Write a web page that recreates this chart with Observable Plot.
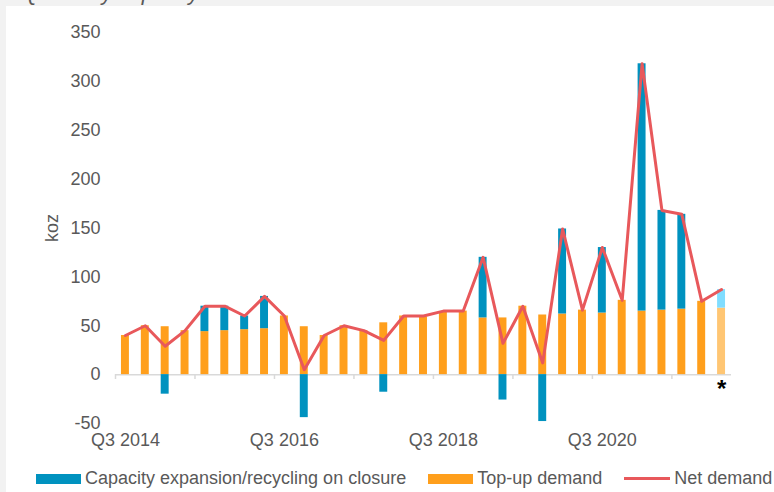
<!DOCTYPE html>
<html>
<head>
<meta charset="utf-8">
<script src="https://cdn.jsdelivr.net/npm/d3@7"></script>
<script src="https://cdn.jsdelivr.net/npm/@observablehq/plot@0.6"></script>
<style>
  html, body { margin: 0; padding: 0; }
  body { width: 774px; height: 492px; background: #f2f2f2; position: relative; overflow: hidden;
         font-family: "Liberation Sans", Arial, sans-serif; }
  #title { position: absolute; left: 22px; top: -20px; font-size: 22px; font-style: italic; color: #595959; white-space: nowrap; z-index: 0; }
  #panel { position: absolute; left: 6px; top: 6px; right: 0; bottom: 0; background: #fff; z-index: 1; }
  #chart { position: absolute; left: 0; top: 0; }
  #legend { position: absolute; left: 30px; top: 462px; display: flex; align-items: center; font-size: 18px; color: #595959; white-space: nowrap; }
  .item { display: flex; align-items: center; margin-right: 22px; }
  .sw { width: 45px; height: 10px; margin-right: 4px; }
  .ln { width: 46px; height: 3px; margin-right: 4px; }
</style>
</head>
<body>
<div id="title">Quarterly capacity additions and closures</div>
<div id="panel">
  <div id="chart"></div>
  <div id="legend"></div>
</div>
<script>
const quarters = ["Q3 2014","Q4 2014","Q1 2015","Q2 2015","Q3 2015","Q4 2015","Q1 2016","Q2 2016",
  "Q3 2016","Q4 2016","Q1 2017","Q2 2017","Q3 2017","Q4 2017","Q1 2018","Q2 2018",
  "Q3 2018","Q4 2018","Q1 2019","Q2 2019","Q3 2019","Q4 2019","Q1 2020","Q2 2020",
  "Q3 2020","Q4 2020","Q1 2021","Q2 2021","Q3 2021","Q4 2021","Q1 2022"];
const topUp    = [40,50,49,45,44,45,46,47,60,49,40,50,45,53,60,59,64,65,58,58,70,61,62,66,63,76,65,66,67,75,68];
const capacity = [0,0,-20,0,26,25,14,33,0,-44,0,0,0,-18,0,0,0,0,62,-26,0,-48,87,0,67,0,253,102,97,0,19];
const netDemand = [40,50,29,45,70,70,60,80,60,5,40,50,45,35,60,60,65,65,120,32,70,12,149,66,130,76,318,168,164,75,87];
const forecastQuarters = ["Q1 2022"];
const xLabelTicks = ["Q3 2014","Q3 2016","Q3 2018","Q3 2020"];
const xTickMarks = ["Q3 2014","Q3 2015","Q3 2016","Q3 2017","Q3 2018","Q3 2019","Q3 2020","Q3 2021"];
const yTicks = [-50,0,50,100,150,200,250,300,350];
const seriesNames = ["Capacity expansion/recycling on closure","Top-up demand","Net demand"];

const colorKeys = ["top","cap","top-f","cap-f"];
const colorRange = ["#FF9F1C","#0092BF","#FFC673","#80DDFF"];

const rows = [];
quarters.forEach((q, i) => {
  const f = forecastQuarters.includes(q);
  rows.push({q, series: "top", key: f ? "top-f" : "top", v: topUp[i]});
  rows.push({q, series: "cap", key: f ? "cap-f" : "cap", v: capacity[i]});
});
const lineRows = quarters.map((q, i) => ({q, v: netDemand[i]}));

const W = 768, H = 448, ML = 109, MR = 43, MT = 26, MB = 31;
const step = (W - ML - MR) / quarters.length;

const chart = Plot.plot({
  width: W, height: H,
  marginLeft: ML, marginRight: MR, marginTop: MT, marginBottom: MB,
  style: {background: "transparent", fontFamily: "'Liberation Sans', Arial, sans-serif", fontSize: "18px", color: "#595959"},
  x: {type: "band", domain: quarters, paddingInner: 0.6, paddingOuter: 0.3, align: 0.5, round: false},
  y: {domain: [-50, 350]},
  color: {domain: colorKeys, range: colorRange},
  marks: [
    Plot.ruleY([0], {stroke: "#d9d9d9", strokeWidth: 1.5}),
    Plot.ruleX(xTickMarks, {x: d => d, y1: 0, y2: -5, dx: -step / 2, stroke: "#d9d9d9", strokeWidth: 1.5}),
    Plot.barY(rows, Plot.stackY({x: "q", y: "v", z: "series", fill: "key", order: null})),
    Plot.lineY(lineRows, {x: "q", y: "v", stroke: "#E8585B", strokeWidth: 3}),
    Plot.text(forecastQuarters, {x: d => d, y: 0, text: () => "*", dy: 5, lineAnchor: "top", fontSize: 24, fontWeight: "bold", fill: "#000"}),
    Plot.axisY({ticks: yTicks, tickSize: 0, tickPadding: 15, tickFormat: d => d, label: "koz", labelAnchor: "center", labelArrow: "none", labelOffset: 70, fill: "#595959"}),
    Plot.axisX({ticks: xLabelTicks, tickSize: 0, tickPadding: 10, label: null, fill: "#595959"})
  ]
});
document.getElementById("chart").appendChild(chart);

const legend = document.getElementById("legend");
const legendColors = ["#0092BF", "#FF9F1C", "#E8585B"];
seriesNames.forEach((name, i) => {
  const item = document.createElement("div");
  item.className = "item";
  const sw = document.createElement("div");
  sw.className = i === 2 ? "ln" : "sw";
  sw.style.background = legendColors[i];
  const t = document.createElement("span");
  t.textContent = name;
  item.appendChild(sw); item.appendChild(t);
  legend.appendChild(item);
});
</script>
</body>
</html>
